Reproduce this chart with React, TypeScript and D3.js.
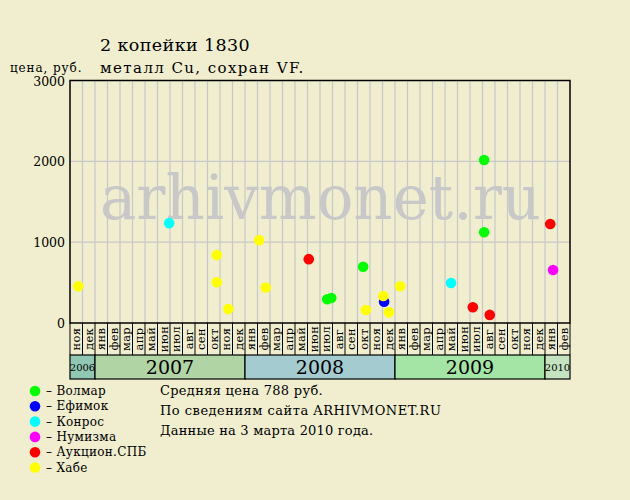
import React from "react";
import * as d3 from "d3";

const monthNames = ["янв", "фев", "мар", "апр", "май", "июн", "июл", "авг", "сен", "окт", "ноя", "дек"];
const yearLabels = ["2006", "2007", "2008", "2009", "2010"];
const yTicks = [0, 1000, 2000, 3000];
const sources = ["Волмар", "Ефимок", "Конрос", "Нумизма", "Аукцион.СПБ", "Хабе"];

const pointDates = [
  "2006-11-21", "2007-06-29", "2007-10-24", "2007-10-24", "2007-11-21",
  "2008-02-05", "2008-02-20", "2008-06-04", "2008-07-19", "2008-07-29",
  "2008-10-15", "2008-10-22", "2008-12-05", "2008-12-03", "2008-12-17",
  "2009-01-14", "2009-05-16", "2009-07-08", "2009-08-05", "2009-08-05",
  "2009-08-19", "2010-01-14", "2010-01-21",
];
const pointValues = [
  455, 1235, 840, 505, 173,
  1025, 440, 790, 293, 309,
  695, 160, 263, 334, 132,
  454, 495, 194, 2016, 1122,
  100, 1225, 656,
];
const pointSources = [
  "Хабе", "Конрос", "Хабе", "Хабе", "Хабе",
  "Хабе", "Хабе", "Аукцион.СПБ", "Волмар", "Волмар",
  "Волмар", "Хабе", "Ефимок", "Хабе", "Хабе",
  "Хабе", "Конрос", "Аукцион.СПБ", "Волмар", "Волмар",
  "Аукцион.СПБ", "Аукцион.СПБ", "Нумизма",
];

const sourceColors: Record<string, string> = {
  "Волмар": "#00ff00",
  "Ефимок": "#0000ff",
  "Конрос": "#00ffff",
  "Нумизма": "#ff00ff",
  "Аукцион.СПБ": "#ff0000",
  "Хабе": "#ffff00",
};
const yearColors = ["#90c8b4", "#b0d4a4", "#a4ccd0", "#a4e4a4", "#c4e4c0"];

const START_YEAR = 2006;
const START_MONTH = 11; // November
const END_YEAR = 2010;
const END_MONTH = 2; // February (inclusive)

function monthIndex(y: number, m: number) {
  return (y - START_YEAR) * 12 + (m - START_MONTH);
}
const nMonths = monthIndex(END_YEAR, END_MONTH) + 1;

function dateToIndex(s: string) {
  const [y, m, d] = s.split("-").map(Number);
  const dim = new Date(y, m, 0).getDate();
  return monthIndex(y, m) + (d - 1) / dim;
}

const FONT = "'DejaVu Serif', serif";
const BG = "#f0eecf";

export default function App() {
  const left = 70, right = 570, top = 80.5, bottom = 323;
  const monthBandBottom = 355, yearBandBottom = 379;
  const x = d3.scaleLinear().domain([0, nMonths]).range([left, right]);
  const y = d3.scaleLinear().domain([0, 3000]).range([bottom, top]);

  const monthCells = d3.range(nMonths).map((i) => {
    const mAbs = START_MONTH - 1 + i;
    return { i, name: monthNames[mAbs % 12] };
  });

  const yearSegs = yearLabels.map((lab, k) => {
    const yr = Number(lab);
    const s = Math.max(0, monthIndex(yr, 1));
    const e = Math.min(nMonths, monthIndex(yr, 12) + 1);
    return { lab, s, e, color: yearColors[k] };
  });

  const points = pointDates.map((d, k) => ({
    xi: dateToIndex(d),
    v: pointValues[k],
    src: pointSources[k],
  }));
  const ordered = sources.flatMap((s) => points.filter((p) => p.src === s));

  return (
    <svg
      width={630}
      height={500}
      style={{ position: "absolute", left: 0, top: 0, background: BG }}
      fontFamily={FONT}
    >
      <rect x={0} y={0} width={630} height={500} fill={BG} />
      {/* titles */}
      <text x={100} y={51} fontSize={17.5} letterSpacing={0.4} fill="#000">2 копейки 1830</text>
      <text x={100} y={73} fontSize={15} letterSpacing={1.4} fill="#000">металл Cu, сохран VF.</text>
      <text x={10} y={72} fontSize={12} letterSpacing={0.9} fill="#000">цена, руб.</text>

      {/* grid */}
      {d3.range(1, nMonths).map((i) => (
        <line key={"vg" + i} x1={x(i)} x2={x(i)} y1={top} y2={bottom} stroke="#c8c8c8" strokeWidth={1.2} />
      ))}
      {yTicks.slice(1, -1).map((t) => (
        <line key={"hg" + t} x1={left} x2={right} y1={y(t)} y2={y(t)} stroke="#c8c8c8" strokeWidth={1.2} />
      ))}

      {/* watermark */}
      <text x={100} y={219} fontSize={61} fill="#c8c8c8">arhivmonet.ru</text>

      {/* y tick labels */}
      {yTicks.map((t) => (
        <text key={"yt" + t} x={65} y={y(t) + (t === 3000 ? 5.5 : 4.5)} fontSize={12.5} textAnchor="end" fill="#000">{t}</text>
      ))}

      {/* plot frame */}
      <rect x={left} y={top} width={right - left} height={bottom - top} fill="none" stroke="#000" strokeWidth={1.5} />

      {/* month band */}
      {monthCells.map((c) => (
        <g key={"mc" + c.i}>
          <line x1={x(c.i)} x2={x(c.i)} y1={bottom} y2={monthBandBottom} stroke="#000" strokeWidth={1} />
          <text
            transform={`translate(${x(c.i + 0.5) + 4},${(bottom + monthBandBottom) / 2}) rotate(-90)`}
            fontSize={11.5}
            letterSpacing={0.3}
            textAnchor="middle"
            fill="#000"
          >
            {c.name}
          </text>
        </g>
      ))}
      <line x1={right} x2={right} y1={bottom} y2={monthBandBottom} stroke="#000" strokeWidth={1} />

      {/* year band */}
      {yearSegs.map((s) => (
        <g key={"ys" + s.lab}>
          <rect x={x(s.s)} y={monthBandBottom} width={x(s.e) - x(s.s)} height={yearBandBottom - monthBandBottom} fill={s.color} stroke="#000" strokeWidth={1.2} />
          <text
            x={(x(s.s) + x(s.e)) / 2}
            y={(monthBandBottom + yearBandBottom) / 2 + (s.e - s.s > 3 ? 7 : 4)}
            fontSize={s.e - s.s > 3 ? 19 : 10}
            textAnchor="middle"
            fill="#000"
          >
            {s.lab}
          </text>
        </g>
      ))}

      {/* points */}
      {ordered.map((p, k) => (
        <circle key={"p" + k} cx={x(p.xi)} cy={y(p.v)} r={5.3} fill={sourceColors[p.src]} />
      ))}

      {/* legend */}
      {sources.map((s, k) => (
        <g key={"lg" + s}>
          <circle cx={35} cy={391 + k * 15.3} r={5.3} fill={sourceColors[s]} />
          <text x={46} y={395 + k * 15.3} fontSize={12} letterSpacing={0.3} fill="#000">– {s}</text>
        </g>
      ))}

      {/* notes */}
      <text x={160} y={395} fontSize={13} letterSpacing={0.3} fill="#000">Средняя цена 788 руб.</text>
      <text x={160} y={415} fontSize={13} letterSpacing={0.5} fill="#000">По  сведениям сайта ARHIVMONET.RU</text>
      <text x={160} y={435} fontSize={13} letterSpacing={0.2} fill="#000">Данные на 3 марта 2010 года.</text>
    </svg>
  );
}
